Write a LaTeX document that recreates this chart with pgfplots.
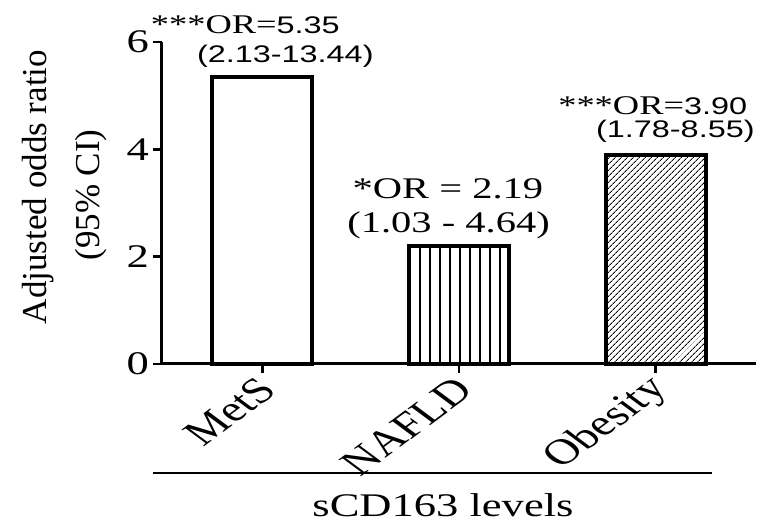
\documentclass[border=0pt]{standalone}
\usepackage{fontspec}
\setmainfont{Liberation Serif}
\newfontfamily\ws[FakeStretch=1.35]{Liberation Serif}
\newfontfamily\wsans[FakeStretch=1.35]{Liberation Sans}
\usepackage{pgfplots}
\pgfplotsset{compat=1.18}
\usetikzlibrary{patterns.meta}
\begin{document}
\begin{tikzpicture}
\begin{axis}[
  scale only axis, width=594pt, height=322pt,
  xmin=-0.51, xmax=2.51, ymin=0, ymax=6,
  axis x line*=bottom, axis y line*=left,
  axis line style={line width=3pt, -},
  xtick={0,1,2}, xticklabels={MetS,NAFLD,Obesity},
  ytick={0,2,4,6},
  tick align=outside,
  major tick length=9pt,
  tick style={line width=2.5pt, black},
  /pgf/number format/assume math mode=true,
  yticklabel style={font=\ws\fontsize{33}{36}\selectfont, inner sep=0pt, xshift=-4pt},
  xticklabel style={font=\fontsize{36}{40}\selectfont, anchor=east, inner sep=0pt, xshift=5pt, yshift=-11pt, cm={0.9546,0.7071,-0.9546,0.7071,(0,0)}},
  clip=false,
]
\addplot[ybar, bar shift=0pt, bar width=0.51, draw=black, line width=4pt, fill=white] coordinates {(0,5.35)};
\addplot[ybar, bar shift=0pt, bar width=0.51, draw=black, line width=4pt, pattern={Lines[angle=90,distance=10pt,line width=1.2pt]}] coordinates {(1,2.19)};
\addplot[ybar, bar shift=0pt, bar width=0.51, draw=black, line width=4pt, pattern={Lines[angle=45,distance=4pt,line width=1pt]}] coordinates {(2,3.90)};
\node[anchor=base, inner sep=0pt] at (axis cs:-0.0865,6.167) {\ws\fontsize{27}{30}\selectfont ***OR=\wsans\fontsize{24}{28}\selectfont 5.35};
\node[anchor=base, inner sep=0pt] at (axis cs:0.117,5.627) {\wsans\fontsize{24}{28}\selectfont (2.13-13.44)};
\node[anchor=base, inner sep=0pt] at (axis cs:0.944,3.093) {\ws\fontsize{30}{34}\selectfont *OR = 2.19};
\node[anchor=base, inner sep=0pt] at (axis cs:0.947,2.459) {\ws\fontsize{30}{34}\selectfont (1.03 - 4.64)};
\node[anchor=base, inner sep=0pt] at (axis cs:1.985,4.658) {\ws\fontsize{27}{30}\selectfont ***OR=\wsans\fontsize{24}{28}\selectfont 3.90};
\node[anchor=base, inner sep=0pt] at (axis cs:2.10,4.22) {\wsans\fontsize{24}{28}\selectfont (1.78-8.55)};
\end{axis}
\draw[line width=2pt] (-9pt,-109pt) -- (550pt,-109pt);
\node[anchor=base, inner sep=0pt] at (281pt,-153pt) {\ws\fontsize{33}{38}\selectfont sCD163 levels};
\node[rotate=90, anchor=base, inner sep=0pt] at (-115pt,177pt) {\fontsize{35}{40}\selectfont Adjusted odds ratio};
\node[rotate=90, anchor=base, inner sep=0pt] at (-62pt,169pt) {\fontsize{35}{40}\selectfont (95\% CI)};
\pgfresetboundingbox
\useasboundingbox (-162pt,-165pt) rectangle (610pt,364pt);
\end{tikzpicture}
\end{document}
